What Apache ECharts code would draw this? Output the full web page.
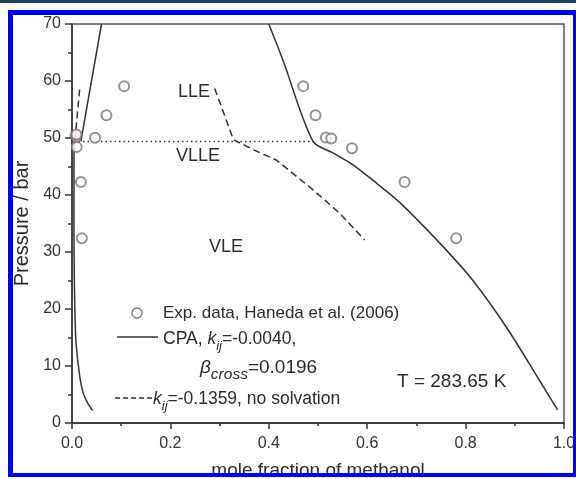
<!DOCTYPE html>
<html><head><meta charset="utf-8">
<script src="https://cdn.jsdelivr.net/npm/echarts@6/dist/echarts.min.js"></script>
<style>html,body{margin:0;padding:0;background:#fff}#c{width:576px;height:479px}</style>
</head><body><div id="c"></div><script>
// tick values
const xTickValues = [0, 0.2, 0.4, 0.6, 0.8, 1.0];
const yTickValues = [0, 10, 20, 30, 40, 50, 60, 70];

// experimental data (Haneda et al. 2006)
const expX = [0.106, 0.070, 0.047, 0.009, 0.0095, 0.018, 0.020, 0.470, 0.495, 0.516, 0.527, 0.569, 0.676, 0.781];
const expP = [59.1, 54.0, 50.05, 50.6, 48.4, 42.3, 32.4, 59.1, 54.0, 50.1, 49.9, 48.2, 42.3, 32.4];
const hiX = [0.007];
const hiP = [50.4];

// CPA, kij=-0.0040, beta_cross=0.0196 (solid)
const cpaVapX = [0.042, 0.032, 0.023, 0.017, 0.0128, 0.0095, 0.0075, 0.0058, 0.0048, 0.0042, 0.004, 0.004, 0.004, 0.0042];
const cpaVapP = [2.2, 3.5, 5.2, 7.5, 10.2, 12.8, 15.1, 20, 25, 30, 35, 40, 45, 49.4];
const cpaLeftX = [0.018, 0.060];
const cpaLeftP = [49.4, 70];
const cpaRightX = [0.400, 0.429, 0.490, 0.530, 0.571, 0.620, 0.666, 0.747, 0.814, 0.883, 0.950, 0.987];
const cpaRightP = [70, 63.6, 49.4, 47.4, 45.3, 42.0, 38.7, 31.6, 25.1, 16.8, 7.5, 2.3];

// kij=-0.1359, no solvation (dashed)
const noSolvLeftX = [0.006, 0.016];
const noSolvLeftP = [49.6, 59.0];
const noSolvX = [0.290, 0.310, 0.328, 0.370, 0.416, 0.490, 0.544, 0.595];
const noSolvP = [58.7, 54.0, 49.7, 47.9, 46.1, 40.9, 36.8, 32.1];

// three-phase line (dotted)
const vlleX = [0.004, 0.490];
const vlleP = [49.4, 49.4];

const zip = (xs, ys) => xs.map((x, i) => [x, ys[i]]);
const FONT = 'Liberation Sans, Arial, Helvetica, sans-serif';
const TXT = '#2b2b2b';
const LINE = '#333';

const lineSeries = (xs, ys, type, smooth) => ({
  type: 'line', data: zip(xs, ys), showSymbol: false, smooth: smooth || false,
  lineStyle: { color: LINE, width: 1.5, type: type }, silent: true, z: 3
});

const richLeg = (fs, sub) => ({
  n: { fontSize: fs, fontFamily: FONT, fill: TXT, verticalAlign: 'middle' },
  k: { fontSize: fs, fontFamily: FONT, fontStyle: 'italic', fill: TXT, verticalAlign: 'middle' },
  s: { fontSize: sub, fontFamily: FONT, fontStyle: 'italic', fill: TXT, verticalAlign: 'middle', padding: [14, 0, 0, 0] }
});

const chart = echarts.init(document.getElementById('c'), null, { renderer: 'canvas' });
const option = {
  backgroundColor: '#fff',
  animation: false,
  grid: { left: 72, right: 12, top: 24, bottom: 56, containLabel: false, outerBoundsMode: 'none',
          show: true, borderColor: '#555', borderWidth: 1.5, backgroundColor: 'transparent' },
  xAxis: {
    type: 'value', min: xTickValues[0], max: xTickValues[xTickValues.length - 1], interval: 0.2,
    name: 'mole fraction of methanol', nameLocation: 'middle', nameGap: 38,
    nameTextStyle: { fontFamily: FONT, fontSize: 19, color: TXT },
    axisLine: { lineStyle: { color: LINE, width: 1.5 } },
    axisTick: { inside: false, length: 6, lineStyle: { color: LINE, width: 1.5 } },
    minorTick: { show: true, splitNumber: 2, length: 3, lineStyle: { color: LINE, width: 1.5 } },
    axisLabel: { fontFamily: FONT, fontSize: 16, color: '#333', margin: 13, formatter: v => v.toFixed(1) },
    splitLine: { show: false }
  },
  yAxis: {
    type: 'value', min: yTickValues[0], max: yTickValues[yTickValues.length - 1], interval: 10,
    name: 'Pressure / bar', nameLocation: 'middle', nameGap: 40, nameRotate: 90,
    nameTextStyle: { fontFamily: FONT, fontSize: 20, color: TXT },
    axisLine: { lineStyle: { color: LINE, width: 1.5 } },
    axisTick: { inside: false, length: 7, lineStyle: { color: LINE, width: 1.5 } },
    minorTick: { show: true, splitNumber: 2, length: 4, lineStyle: { color: LINE, width: 1.5 } },
    axisLabel: { fontFamily: FONT, fontSize: 16, color: '#333', margin: 11 },
    splitLine: { show: false }
  },
  series: [
    lineSeries(vlleX, vlleP, [1.5, 3]),
    lineSeries(cpaVapX, cpaVapP, 'solid', 0.3),
    lineSeries(cpaLeftX, cpaLeftP, 'solid'),
    lineSeries(cpaRightX, cpaRightP, 'solid', 0.3),
    lineSeries(noSolvLeftX, noSolvLeftP, [7, 4]),
    lineSeries(noSolvX, noSolvP, [7, 4]),
    { type: 'scatter', data: zip(hiX, hiP), symbol: 'circle', symbolSize: 11, silent: true, z: 4,
      itemStyle: { color: 'rgba(190,100,100,0.55)', borderColor: '#a56060', borderWidth: 1 } },
    { type: 'scatter', data: zip(expX, expP), symbol: 'emptyCircle', symbolSize: 10, silent: true, z: 5,
      itemStyle: { color: '#777', borderColor: '#777', borderWidth: 1.3 } }
  ],
  graphic: [
    // page frame
    { type: 'rect', shape: { x: 0, y: 0, width: 576, height: 3 }, style: { fill: '#1b3d6e' }, z: 100 },
    { type: 'rect', shape: { x: 8, y: 10, width: 568, height: 5 }, style: { fill: '#0000ff' }, z: 100 },
    { type: 'rect', shape: { x: 8, y: 10, width: 5, height: 467 }, style: { fill: '#0000ff' }, z: 100 },
    { type: 'rect', shape: { x: 8, y: 473, width: 568, height: 4 }, style: { fill: '#0000ff' }, z: 100 },
    { type: 'rect', shape: { x: 573, y: 10, width: 3, height: 467 }, style: { fill: '#0000ff' }, z: 100 },
    // region labels
    { type: 'text', x: 178, y: 92, style: { text: 'LLE', font: '18px ' + FONT, fill: TXT, verticalAlign: 'middle' }, z: 10 },
    { type: 'text', x: 176, y: 156, style: { text: 'VLLE', font: '18px ' + FONT, fill: TXT, verticalAlign: 'middle' }, z: 10 },
    { type: 'text', x: 209, y: 247, style: { text: 'VLE', font: '18px ' + FONT, fill: TXT, verticalAlign: 'middle' }, z: 10 },
    { type: 'text', x: 397, y: 382, style: { text: 'T = 283.65 K', font: '19px ' + FONT, fill: TXT, verticalAlign: 'middle' }, z: 10 },
    // legend
    { type: 'circle', shape: { cx: 137, cy: 313, r: 5 }, style: { fill: 'none', stroke: '#777', lineWidth: 1.3 }, z: 10 },
    { type: 'text', x: 163, y: 313, style: { text: 'Exp. data, Haneda et al. (2006)', font: '17px ' + FONT, fill: TXT, verticalAlign: 'middle' }, z: 10 },
    { type: 'line', shape: { x1: 117, y1: 337, x2: 158, y2: 337 }, style: { stroke: LINE, lineWidth: 1.5 }, z: 10 },
    { type: 'text', x: 163, y: 339, style: { text: '{n|CPA, }{k|k}{s|ij}{n|=-0.0040,}', verticalAlign: 'middle', rich: richLeg(17.5, 13) }, z: 10 },
    { type: 'text', x: 200, y: 368, style: { text: '{k|β}{s|cross}{n|=0.0196}', verticalAlign: 'middle', rich: richLeg(19, 15.5) }, z: 10 },
    { type: 'line', shape: { x1: 115, y1: 398, x2: 152, y2: 398 }, style: { stroke: LINE, lineWidth: 1.5, lineDash: [5, 3] }, z: 10 },
    { type: 'text', x: 153, y: 399, style: { text: '{k|k}{s|ij}{n|=-0.1359, no solvation}', verticalAlign: 'middle', rich: richLeg(17.5, 13) }, z: 10 }
  ]
};
chart.setOption(option);
</script></body></html>
